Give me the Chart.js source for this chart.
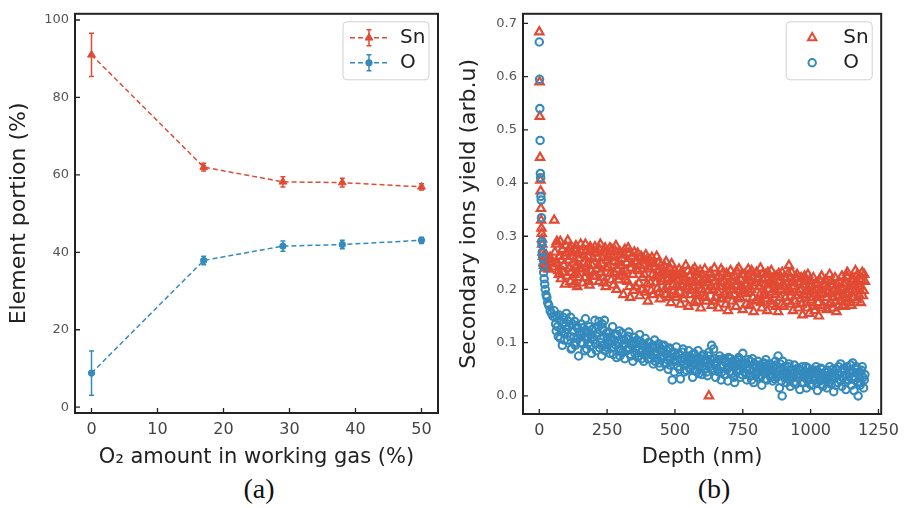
<!DOCTYPE html>
<html>
<head>
<meta charset="utf-8">
<script src="https://cdn.jsdelivr.net/npm/chart.js@4.4.0/dist/chart.umd.min.js"></script>
<style>
  body { margin: 0; background: #fff; width: 906px; height: 508px; position: relative; overflow: hidden; }
  .cap { position: absolute; top: 473px; width: 100px; text-align: center;
         font-family: "Liberation Serif", serif; font-size: 28px; color: #111; }
</style>
</head>
<body>
<canvas id="chartA" width="450" height="470" style="position:absolute;left:0;top:0"></canvas>
<canvas id="chartB" width="456" height="470" style="position:absolute;left:450px;top:0"></canvas>
<div class="cap" style="left:209px">(a)</div>
<div class="cap" style="left:664px">(b)</div>
<script>
// panel (a)
const o2Amount = [0, 17, 29, 38, 50];
const snPortion = [91, 62, 58.2, 58, 56.9];
const snError = [5.6, 1.0, 1.3, 1.1, 0.8];
const oPortion = [8.8, 37.9, 41.6, 42, 43.1];
const oError = [5.7, 1.1, 1.3, 1.1, 0.8];
const ticksAx = [0, 10, 20, 30, 40, 50];
const ticksAy = [0, 20, 40, 60, 80, 100];

// panel (b), first pass of depth points
const depth = [0,1,2,3,4,5,6,7,8,9,10,11,12,14,16,18,20,22,25,28,31,35,40,45,50,
  55,60,65,70,75,80,85,90,95,100,
  105,110,115,120,125,130,135,140,145,150,
  155,160,165,170,175,180,185,190,195,200,
  205,210,215,220,225,230,235,240,245,250,
  255,260,265,270,275,280,285,290,295,300,
  305,310,315,320,325,330,335,340,345,350,
  355,360,365,370,375,380,385,390,395,400,
  405,410,415,420,425,430,435,440,445,450,
  455,460,465,470,475,480,485,490,495,500,
  505,510,515,520,525,530,535,540,545,550,
  555,560,565,570,575,580,585,590,595,600,
  605,610,615,620,625,630,635,640,645,650,
  655,660,665,670,675,680,685,690,695,700,
  705,710,715,720,725,730,735,740,745,750,
  755,760,765,770,775,780,785,790,795,800,
  805,810,815,820,825,830,835,840,845,850,
  855,860,865,870,875,880,885,890,895,900,
  905,910,915,920,925,930,935,940,945,950,
  955,960,965,970,975,980,985,990,995,1000,
  1005,1010,1015,1020,1025,1030,1035,1040,1045,1050,
  1055,1060,1065,1070,1075,1080,1085,1090,1095,1100,
  1105,1110,1115,1120,1125,1130,1135,1140,1145,1150,
  1155,1160,1165,1170,1175,1180,1185,1190,1195,1200];

const snYield = [0.684,0.59,0.525,0.448,0.405,0.385,0.352,0.33,0.315,0.305,0.295,0.285,0.27,0.262,0.25,0.245,0.258,0.24,0.265,0.245,0.255,0.238,0.26,0.25,0.242,
  0.33,0.25,0.29,0.235,0.262,0.22,0.275,0.245,0.21,0.268,
  0.292,0.24,0.215,0.27,0.25,0.228,0.282,0.205,0.258,0.24,
  0.27,0.212,0.25,0.285,0.232,0.262,0.208,0.275,0.245,0.225,
  0.28,0.238,0.26,0.215,0.285,0.248,0.222,0.27,0.205,0.255,
  0.242,0.278,0.218,0.26,0.232,0.272,0.2,0.25,0.225,0.265,
  0.258,0.19,0.275,0.235,0.215,0.268,0.185,0.248,0.228,0.27,
  0.205,0.252,0.235,0.188,0.262,0.222,0.245,0.195,0.255,0.178,
  0.238,0.212,0.26,0.19,0.242,0.225,0.202,0.25,0.182,0.232,
  0.215,0.245,0.19,0.23,0.205,0.24,0.175,0.222,0.198,0.235,
  0.185,0.218,0.238,0.172,0.208,0.228,0.19,0.245,0.2,0.168,
  0.225,0.198,0.235,0.175,0.215,0.232,0.188,0.208,0.165,0.228,
  0.195,0.238,0.178,0.218,0.0,0.232,0.17,0.2,0.24,0.185,
  0.222,0.165,0.205,0.238,0.182,0.215,0.195,0.23,0.16,0.21,
  0.235,0.178,0.2,0.225,0.168,0.215,0.24,0.185,0.205,0.162,
  0.228,0.192,0.21,0.238,0.17,0.2,0.222,0.158,0.212,0.232,
  0.18,0.205,0.24,0.165,0.218,0.195,0.228,0.16,0.2,0.215,
  0.235,0.172,0.208,0.19,0.225,0.158,0.215,0.2,0.232,0.168,
  0.205,0.22,0.178,0.245,0.195,0.232,0.16,0.212,0.188,0.228,
  0.165,0.2,0.222,0.152,0.19,0.215,0.175,0.228,0.155,0.205,
  0.185,0.222,0.16,0.198,0.212,0.15,0.19,0.225,0.17,0.205,
  0.218,0.162,0.195,0.228,0.175,0.208,0.185,0.222,0.158,0.2,
  0.215,0.178,0.225,0.19,0.168,0.212,0.232,0.182,0.205,0.17,
  0.22,0.195,0.235,0.18,0.21,0.225,0.175,0.232,0.198,0.215];

const oYield = [0.665,0.595,0.54,0.48,0.418,0.41,0.375,0.368,0.335,0.29,0.285,0.27,0.26,0.245,0.232,0.22,0.21,0.2,0.19,0.185,0.175,0.17,0.16,0.155,0.15,
  0.16,0.135,0.15,0.112,0.142,0.125,0.095,0.138,0.118,0.155,
  0.105,0.13,0.148,0.09,0.122,0.14,0.1,0.128,0.075,0.115,
  0.135,0.098,0.12,0.145,0.088,0.11,0.13,0.095,0.125,0.105,
  0.142,0.085,0.118,0.14,0.1,0.075,0.125,0.142,0.092,0.11,
  0.12,0.08,0.105,0.13,0.09,0.115,0.072,0.1,0.122,0.085,
  0.118,0.095,0.07,0.108,0.088,0.12,0.078,0.1,0.065,0.11,
  0.09,0.105,0.075,0.115,0.082,0.098,0.065,0.108,0.085,0.07,
  0.1,0.078,0.092,0.06,0.105,0.082,0.07,0.098,0.055,0.088,
  0.075,0.095,0.062,0.085,0.05,0.09,0.072,0.03,0.082,0.065,
  0.092,0.055,0.078,0.032,0.07,0.088,0.045,0.075,0.06,0.085,
  0.05,0.072,0.035,0.08,0.062,0.045,0.085,0.055,0.07,0.04,
  0.078,0.052,0.065,0.038,0.082,0.06,0.095,0.048,0.07,0.035,
  0.062,0.045,0.075,0.03,0.058,0.07,0.04,0.065,0.028,0.055,
  0.07,0.042,0.058,0.025,0.065,0.048,0.072,0.035,0.055,0.08,
  0.045,0.06,0.03,0.068,0.05,0.038,0.07,0.025,0.058,0.042,
  0.065,0.035,0.052,0.02,0.06,0.045,0.068,0.03,0.05,0.04,
  0.058,0.028,0.045,0.065,0.035,0.075,0.015,0.05,0.0,0.04,
  0.055,0.025,0.042,0.06,0.018,0.048,0.035,0.058,0.022,0.04,
  0.05,0.012,0.038,0.055,0.025,0.045,0.015,0.052,0.03,0.042,
  0.02,0.048,0.035,0.055,0.01,0.04,0.028,0.05,0.018,0.038,
  0.045,0.015,0.032,0.055,0.022,0.042,0.008,0.035,0.05,0.025,
  0.04,0.06,0.018,0.035,0.048,0.012,0.055,0.03,0.042,0.02,
  0.062,0.01,0.035,0.05,0.0,0.045,0.025,0.055,0.015,0.04];

// panel (b), in-between depth points
const depth2 = [57.5,62.5,67.5,72.5,77.5,82.5,87.5,92.5,97.5,102.5,
  107.5,112.5,117.5,122.5,127.5,132.5,137.5,142.5,147.5,152.5,
  157.5,162.5,167.5,172.5,177.5,182.5,187.5,192.5,197.5,202.5,
  207.5,212.5,217.5,222.5,227.5,232.5,237.5,242.5,247.5,252.5,
  257.5,262.5,267.5,272.5,277.5,282.5,287.5,292.5,297.5,302.5,
  307.5,312.5,317.5,322.5,327.5,332.5,337.5,342.5,347.5,352.5,
  357.5,362.5,367.5,372.5,377.5,382.5,387.5,392.5,397.5,402.5,
  407.5,412.5,417.5,422.5,427.5,432.5,437.5,442.5,447.5,452.5,
  457.5,462.5,467.5,472.5,477.5,482.5,487.5,492.5,497.5,502.5,
  507.5,512.5,517.5,522.5,527.5,532.5,537.5,542.5,547.5,552.5,
  557.5,562.5,567.5,572.5,577.5,582.5,587.5,592.5,597.5,602.5,
  607.5,612.5,617.5,622.5,627.5,632.5,637.5,642.5,647.5,652.5,
  657.5,662.5,667.5,672.5,677.5,682.5,687.5,692.5,697.5,702.5,
  707.5,712.5,717.5,722.5,727.5,732.5,737.5,742.5,747.5,752.5,
  757.5,762.5,767.5,772.5,777.5,782.5,787.5,792.5,797.5,802.5,
  807.5,812.5,817.5,822.5,827.5,832.5,837.5,842.5,847.5,852.5,
  857.5,862.5,867.5,872.5,877.5,882.5,887.5,892.5,897.5,902.5,
  907.5,912.5,917.5,922.5,927.5,932.5,937.5,942.5,947.5,952.5,
  957.5,962.5,967.5,972.5,977.5,982.5,987.5,992.5,997.5,1002.5,
  1007.5,1012.5,1017.5,1022.5,1027.5,1032.5,1037.5,1042.5,1047.5,1052.5,
  1057.5,1062.5,1067.5,1072.5,1077.5,1082.5,1087.5,1092.5,1097.5,1102.5,
  1107.5,1112.5,1117.5,1122.5,1127.5,1132.5,1137.5,1142.5,1147.5,1152.5,
  1157.5,1162.5,1167.5,1172.5,1177.5,1182.5,1187.5,1192.5,1197.5];

const snYield2 = [0.27,0.285,0.248,0.228,0.29,0.255,0.232,0.262,0.282,0.225,
  0.255,0.278,0.232,0.262,0.21,0.275,0.245,0.268,0.222,0.285,
  0.238,0.265,0.222,0.272,0.248,0.215,0.28,0.235,0.258,0.27,
  0.225,0.268,0.245,0.275,0.232,0.26,0.212,0.278,0.24,0.265,
  0.262,0.23,0.275,0.208,0.252,0.282,0.238,0.218,0.27,0.245,
  0.232,0.265,0.218,0.25,0.278,0.205,0.24,0.262,0.198,0.252,
  0.238,0.268,0.212,0.245,0.2,0.258,0.228,0.265,0.21,0.242,
  0.255,0.198,0.228,0.248,0.212,0.262,0.235,0.195,0.245,0.22,
  0.232,0.2,0.252,0.218,0.185,0.228,0.248,0.208,0.225,0.19,
  0.228,0.205,0.195,0.232,0.215,0.182,0.222,0.205,0.235,0.212,
  0.19,0.215,0.205,0.24,0.192,0.178,0.218,0.235,0.2,0.212,
  0.22,0.185,0.212,0.198,0.228,0.205,0.222,0.178,0.215,0.205,
  0.195,0.225,0.182,0.212,0.232,0.19,0.172,0.208,0.225,0.188,
  0.205,0.222,0.19,0.208,0.235,0.182,0.198,0.218,0.228,0.2,
  0.21,0.172,0.225,0.195,0.218,0.235,0.185,0.205,0.178,0.22,
  0.222,0.19,0.175,0.228,0.188,0.21,0.182,0.232,0.212,0.178,
  0.195,0.218,0.225,0.168,0.205,0.23,0.185,0.172,0.21,0.222,
  0.185,0.198,0.23,0.2,0.172,0.215,0.205,0.178,0.222,0.195,
  0.21,0.182,0.172,0.208,0.225,0.195,0.165,0.198,0.218,0.18,
  0.2,0.168,0.21,0.185,0.175,0.218,0.2,0.165,0.192,0.21,
  0.185,0.205,0.172,0.192,0.215,0.165,0.198,0.178,0.21,0.188,
  0.195,0.202,0.17,0.21,0.185,0.225,0.192,0.2,0.175,0.215,
  0.185,0.21,0.2,0.228,0.19,0.205,0.218,0.188,0.228];

const oYield2 = [0.148,0.122,0.13,0.152,0.108,0.12,0.148,0.105,0.132,0.125,
  0.14,0.112,0.088,0.135,0.11,0.095,0.132,0.108,0.12,0.1,
  0.115,0.128,0.085,0.108,0.122,0.1,0.115,0.08,0.11,0.128,
  0.098,0.112,0.13,0.09,0.108,0.135,0.095,0.085,0.118,0.1,
  0.098,0.11,0.09,0.078,0.105,0.095,0.115,0.088,0.075,0.105,
  0.082,0.105,0.098,0.085,0.112,0.09,0.075,0.095,0.102,0.08,
  0.098,0.072,0.088,0.102,0.07,0.085,0.095,0.078,0.092,0.1,
  0.085,0.07,0.095,0.078,0.065,0.09,0.08,0.062,0.075,0.095,
  0.085,0.06,0.078,0.068,0.088,0.058,0.08,0.065,0.045,0.075,
  0.068,0.08,0.05,0.065,0.082,0.058,0.07,0.048,0.065,0.075,
  0.068,0.058,0.078,0.048,0.07,0.06,0.042,0.065,0.075,0.055,
  0.062,0.07,0.045,0.075,0.055,0.068,0.052,0.088,0.06,0.065,
  0.05,0.068,0.055,0.045,0.07,0.04,0.062,0.05,0.072,0.045,
  0.058,0.065,0.035,0.055,0.045,0.068,0.05,0.062,0.04,0.06,
  0.062,0.04,0.055,0.048,0.065,0.03,0.052,0.06,0.038,0.055,
  0.045,0.058,0.038,0.05,0.062,0.032,0.055,0.045,0.06,0.035,
  0.048,0.055,0.032,0.058,0.045,0.04,0.06,0.028,0.065,0.035,
  0.045,0.035,0.055,0.03,0.042,0.05,0.025,0.045,0.04,0.052,
  0.035,0.048,0.025,0.042,0.035,0.055,0.03,0.04,0.022,0.048,
  0.042,0.03,0.048,0.025,0.045,0.035,0.052,0.022,0.04,0.03,
  0.035,0.048,0.025,0.04,0.03,0.05,0.038,0.02,0.042,0.055,
  0.03,0.045,0.035,0.052,0.025,0.04,0.03,0.048,0.058,0.035,
  0.045,0.03,0.055,0.025,0.04,0.02,0.048,0.035,0.03];

const ticksBx = [0, 250, 500, 750, 1000, 1250];
const ticksBy = [0, 0.1, 0.2, 0.3, 0.4, 0.5, 0.6, 0.7];

const RED = "#e24a33";
const BLUE = "#348abd";
const INK = "#222";

Chart.defaults.font.family = "'DejaVu Sans', sans-serif";
Chart.defaults.animation = false;

// error bars, inward ticks, box frame and the legend
const framePlugin = {
  id: "frame",
  afterDatasetsDraw(chart) {
    const ctx = chart.ctx;
    const ys = chart.scales.y;
    chart.data.datasets.forEach((ds, i) => {
      if (!ds.errors) return;
      const meta = chart.getDatasetMeta(i);
      ctx.save();
      ctx.strokeStyle = ds.borderColor;
      ctx.lineWidth = 1.5;
      meta.data.forEach((pt, j) => {
        const v = ds.data[j].y;
        const top = ys.getPixelForValue(v + ds.errors[j]);
        const bot = ys.getPixelForValue(v - ds.errors[j]);
        ctx.beginPath();
        ctx.moveTo(pt.x, top); ctx.lineTo(pt.x, bot);
        ctx.moveTo(pt.x - 2.5, top); ctx.lineTo(pt.x + 2.5, top);
        ctx.moveTo(pt.x - 2.5, bot); ctx.lineTo(pt.x + 2.5, bot);
        ctx.stroke();
      });
      ctx.restore();
    });
  },
  afterDraw(chart, args, opts) {
    const ctx = chart.ctx;
    const a = chart.chartArea;
    const xs = chart.scales.x, ys = chart.scales.y;
    ctx.save();
    ctx.strokeStyle = INK;
    ctx.lineWidth = 1.3;
    ctx.beginPath();
    xs.ticks.forEach(t => {
      const px = xs.getPixelForValue(t.value);
      ctx.moveTo(px, a.bottom); ctx.lineTo(px, a.bottom - 5);
    });
    ys.ticks.forEach(t => {
      const py = ys.getPixelForValue(t.value);
      ctx.moveTo(a.left, py); ctx.lineTo(a.left + 5, py);
    });
    ctx.stroke();
    ctx.lineWidth = 2;
    ctx.strokeRect(a.left, a.top, a.right - a.left, a.bottom - a.top);

    // legend box
    const bx = a.right - 9 - 86, by = a.top + 8;
    ctx.beginPath();
    ctx.roundRect(bx, by, 86, 58, 4);
    ctx.fillStyle = "rgba(255,255,255,0.8)";
    ctx.fill();
    ctx.strokeStyle = "#d0d0d0";
    ctx.lineWidth = 1;
    ctx.stroke();
    opts.items.forEach((it, k) => {
      const ry = by + 16 + k * 25;
      const mx = bx + 26;
      ctx.strokeStyle = it.color;
      if (opts.lines) {
        ctx.lineWidth = 1.5;
        ctx.setLineDash([5, 3]);
        ctx.beginPath();
        ctx.moveTo(bx + 7, ry); ctx.lineTo(bx + 44, ry);
        ctx.stroke();
        ctx.setLineDash([]);
        ctx.beginPath();
        ctx.moveTo(mx, ry - 8); ctx.lineTo(mx, ry + 8);
        ctx.moveTo(mx - 2.5, ry - 8); ctx.lineTo(mx + 2.5, ry - 8);
        ctx.moveTo(mx - 2.5, ry + 8); ctx.lineTo(mx + 2.5, ry + 8);
        ctx.stroke();
      }
      ctx.fillStyle = it.fill ? it.color : "rgba(0,0,0,0)";
      ctx.lineWidth = it.width;
      Chart.helpers.drawPoint(ctx, {
        pointStyle: it.style, radius: it.radius, borderWidth: it.width
      }, mx, ry);
      ctx.fillStyle = INK;
      ctx.font = "20px 'DejaVu Sans'";
      ctx.textBaseline = "middle";
      ctx.textAlign = "left";
      ctx.fillText(it.text, bx + 57, ry);
    });
    ctx.restore();
  }
};

function axes(o) {
  return {
    x: {
      type: "linear", min: o.xMin, max: o.xMax,
      afterBuildTicks: s => { s.ticks = o.xTicks.map(v => ({ value: v })); },
      afterFit: s => { s.height = o.xHeight; },
      grid: { display: false, drawTicks: false },
      border: { display: false },
      ticks: { color: "#444", font: { size: 16 }, padding: 7, maxRotation: 0, callback: v => String(v) },
      title: { display: true, text: o.xTitle, color: INK, font: { size: 21 }, padding: 0 }
    },
    y: {
      type: "linear", min: o.yMin, max: o.yMax,
      afterBuildTicks: s => { s.ticks = o.yTicks.map(v => ({ value: v })); },
      afterFit: s => { s.width = o.yWidth; },
      grid: { display: false, drawTicks: false },
      border: { display: false },
      ticks: { color: "#555", font: { size: 13 }, padding: 6, callback: o.yFmt },
      title: { display: true, text: o.yTitle, color: INK, font: { size: 22 }, padding: { top: 6 } }
    }
  };
}

new Chart(document.getElementById("chartA"), {
  type: "scatter",
  data: {
    datasets: [
      {
        label: "Sn",
        data: o2Amount.map((x, i) => ({ x: x, y: snPortion[i] })),
        errors: snError,
        showLine: true,
        borderColor: RED, backgroundColor: RED,
        borderWidth: 1.5, borderDash: [5, 3],
        pointStyle: "triangle", pointRadius: 4.5, pointBorderWidth: 1
      },
      {
        label: "O",
        data: o2Amount.map((x, i) => ({ x: x, y: oPortion[i] })),
        errors: oError,
        showLine: true,
        borderColor: BLUE, backgroundColor: BLUE,
        borderWidth: 1.5, borderDash: [5, 3],
        pointStyle: "circle", pointRadius: 3.2, pointBorderWidth: 1
      }
    ]
  },
  options: {
    responsive: false,
    devicePixelRatio: 1,
    layout: { padding: { left: 0, top: 13, right: 12, bottom: 0 } },
    scales: axes({
      xMin: -2.5, xMax: 52.5, xTicks: ticksAx, xHeight: 57,
      yMin: -1.5, yMax: 101.6, yTicks: ticksAy, yWidth: 75,
      xTitle: "O\u2082 amount in working gas (%)",
      yTitle: "Element portion (%)",
      yFmt: v => String(v)
    }),
    plugins: {
      legend: { display: false },
      tooltip: { enabled: false },
      frame: { lines: true, items: [
        { text: "Sn", color: RED, style: "triangle", radius: 4.5, width: 1, fill: true },
        { text: "O", color: BLUE, style: "circle", radius: 3.2, width: 1, fill: true }
      ] }
    }
  },
  plugins: [framePlugin]
});

function pairs(xs, ys) {
  return xs.map((x, i) => ({ x: x, y: ys[i] }));
}

new Chart(document.getElementById("chartB"), {
  type: "scatter",
  data: {
    datasets: [
      {
        label: "Sn",
        data: pairs(depth, snYield).concat(pairs(depth2, snYield2)),
        borderColor: RED, backgroundColor: "rgba(0,0,0,0)",
        pointStyle: "triangle", pointRadius: 4.8, pointBorderWidth: 2.2,
        order: 1
      },
      {
        label: "O",
        data: pairs(depth, oYield).concat(pairs(depth2, oYield2)),
        borderColor: BLUE, backgroundColor: "rgba(0,0,0,0)",
        pointStyle: "circle", pointRadius: 3.7, pointBorderWidth: 2.1,
        order: 0
      }
    ]
  },
  options: {
    responsive: false,
    devicePixelRatio: 1,
    layout: { padding: { left: 0, top: 13, right: 21, bottom: 0 } },
    scales: axes({
      xMin: -60, xMax: 1260, xTicks: ticksBx, xHeight: 56,
      yMin: -0.034, yMax: 0.718, yTicks: ticksBy, yWidth: 73,
      xTitle: "Depth (nm)",
      yTitle: "Secondary ions yield (arb.u)",
      yFmt: v => v.toFixed(1)
    }),
    plugins: {
      legend: { display: false },
      tooltip: { enabled: false },
      frame: { lines: false, items: [
        { text: "Sn", color: RED, style: "triangle", radius: 4.8, width: 2, fill: false },
        { text: "O", color: BLUE, style: "circle", radius: 3.7, width: 2, fill: false }
      ] }
    }
  },
  plugins: [framePlugin]
});
</script>
</body>
</html>
